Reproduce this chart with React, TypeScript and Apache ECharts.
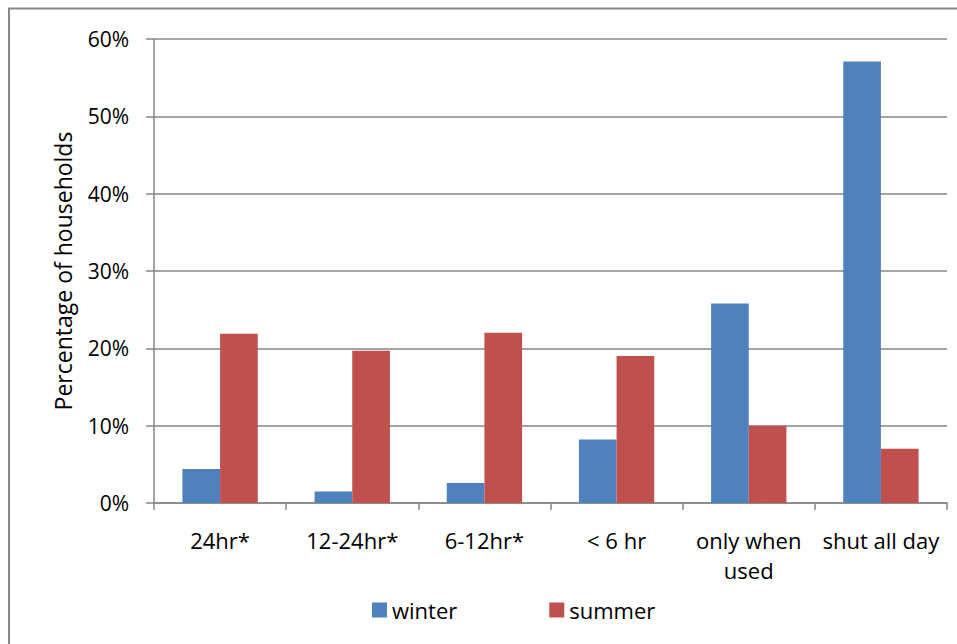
import React, { useEffect, useRef } from "react";
import * as echarts from "echarts";

const categories = ["24hr*", "12-24hr*", "6-12hr*", "< 6 hr", "only when\nused", "shut all day"];
const winter = [4.4, 1.5, 2.6, 8.2, 25.8, 57.1];
const summer = [21.9, 19.7, 22.0, 19.0, 10.0, 7.0];
const yTicks = [0, 10, 20, 30, 40, 50, 60];

const FONT = "Open Sans";

export default function App() {
  const ref = useRef<HTMLDivElement>(null);
  useEffect(() => {
    const chart = echarts.init(ref.current!, null, { renderer: "svg" });
    chart.setOption({
      animation: false,
      backgroundColor: "#ffffff",
      textStyle: { fontFamily: FONT },
      graphic: [
        { type: "line", shape: { x1: 8, y1: 8.5, x2: 957, y2: 8.5 }, style: { stroke: "#868686", lineWidth: 2 } },
        { type: "line", shape: { x1: 9, y1: 8, x2: 9, y2: 644 }, style: { stroke: "#868686", lineWidth: 2 } },
      ],
      grid: { left: 154, right: 10, top: 39, bottom: 141, containLabel: false },
      legend: {
        top: 594,
        left: 367,
        itemGap: 92,
        itemWidth: 15,
        itemHeight: 15,
        icon: "rect",
        textStyle: { fontFamily: FONT, fontSize: 22, color: "#000" },
        data: ["winter", "summer"],
      },
      xAxis: {
        type: "category",
        data: categories,
        axisLine: { lineStyle: { color: "#868686", width: 1.5 } },
        axisTick: { show: true, length: 7, interval: 0, lineStyle: { color: "#868686", width: 1.5 } },
        axisLabel: { interval: 0, fontFamily: FONT, fontSize: 22, color: "#000", margin: 22, lineHeight: 30 },
      },
      yAxis: {
        type: "value",
        min: yTicks[0],
        max: yTicks[yTicks.length - 1],
        interval: 10,
        name: "Percentage of households",
        nameLocation: "middle",
        nameGap: 80,
        nameTextStyle: { fontFamily: FONT, fontSize: 23, color: "#000" },
        axisLine: { show: true, lineStyle: { color: "#868686", width: 1.5 } },
        axisTick: { show: true, length: 8, lineStyle: { color: "#868686", width: 1.5 } },
        axisLabel: { formatter: "{value}%", fontFamily: FONT, fontSize: 21, color: "#000", margin: 25 },
        splitLine: { show: true, lineStyle: { color: "#868686", width: 1.5 } },
      },
      series: [
        {
          name: "winter",
          type: "bar",
          data: winter,
          itemStyle: { color: "#4f81bd" },
          barGap: "0%",
          barCategoryGap: "43%",
        },
        {
          name: "summer",
          type: "bar",
          data: summer,
          itemStyle: { color: "#c0504d" },
          barGap: "0%",
          barCategoryGap: "43%",
        },
      ],
    });
    return () => chart.dispose();
  }, []);
  return <div ref={ref} style={{ position: "absolute", left: 0, top: 0, width: 957, height: 644 }} />;
}
